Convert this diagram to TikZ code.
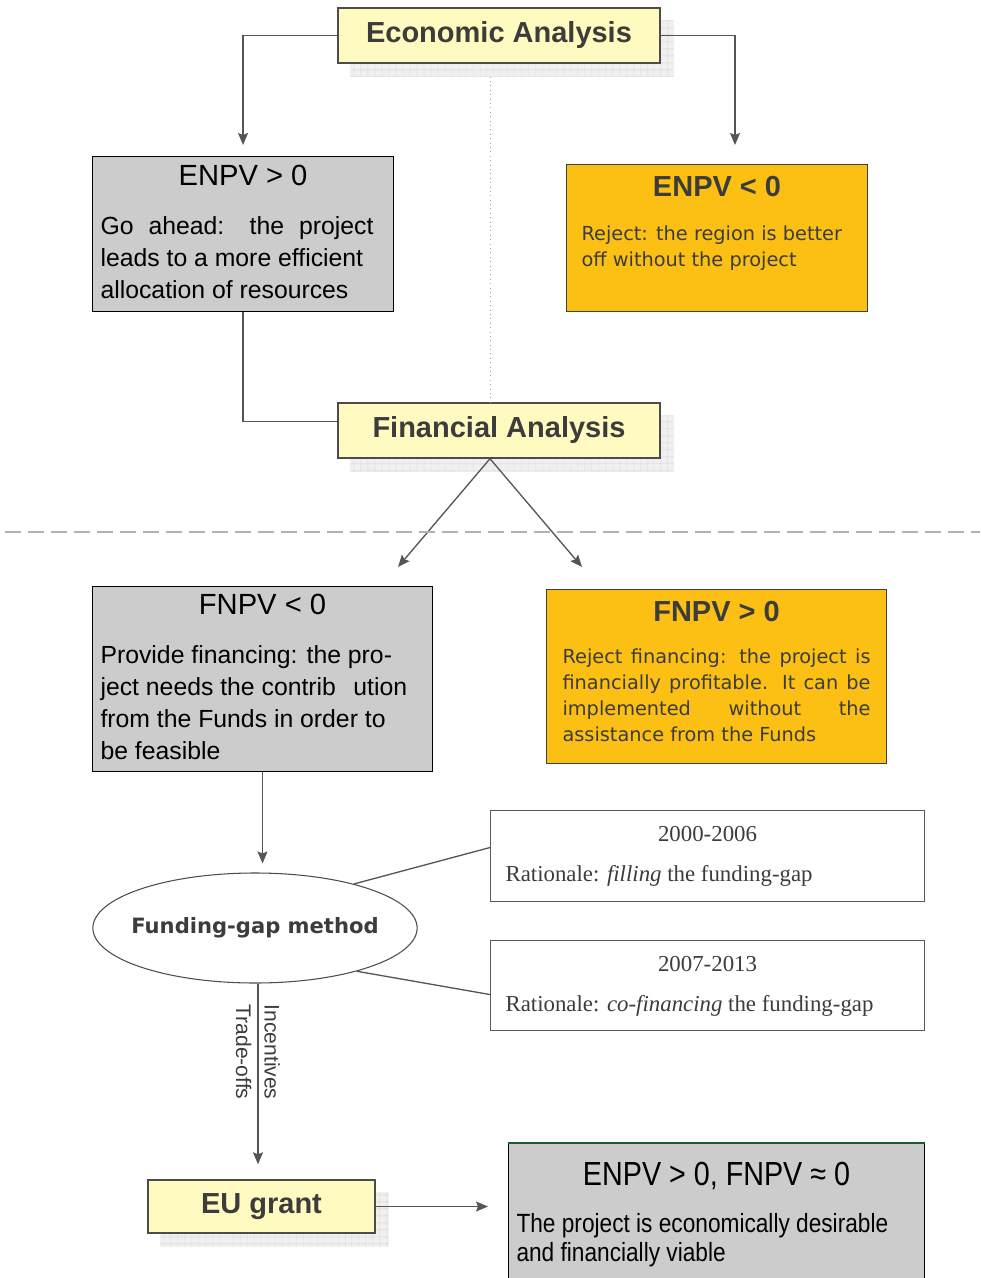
\documentclass[tikz,border=0pt]{standalone}
\usepackage{fontspec}
\newfontfamily\arialfont{Liberation Sans}
\newfontfamily\tahfont{DejaVu Sans}
\newfontfamily\narrowfont[FakeStretch=0.86]{Liberation Sans}
\newfontfamily\garafont{Liberation Serif}
\usetikzlibrary{arrows.meta,shapes.geometric,patterns.meta,backgrounds}
\definecolor{headfill}{HTML}{FFFAC0}
\definecolor{ambfill}{HTML}{FCC014}
\definecolor{boxgrey}{HTML}{CCCCCC}
\definecolor{txtdark}{HTML}{3C3C3C}
\definecolor{linegrey}{HTML}{555555}
\definecolor{topgreen}{HTML}{1F5A2A}
\newcommand{\boxtxt}[3]{\parbox[t][#2][t]{#1}{#3}}
\newcommand{\greytitle}{\arialfont\fontsize{16.6}{19}\selectfont}
\newcommand{\greybody}{\arialfont\fontsize{14.1}{18.1}\selectfont}
\newcommand{\ambtitle}{\arialfont\bfseries\fontsize{16.5}{19}\selectfont}
\newcommand{\ambbody}{\tahfont\fontsize{11}{14.7}\selectfont}
\tikzset{
	headbox/.style={draw=gray!60!black, line width=0.8pt, fill=headfill, text=txtdark, font=\arialfont\bfseries\fontsize{16.5}{19}\selectfont, minimum width=64.4mm, minimum height=11mm, inner sep=0pt},
	greybox/.style={draw=black, line width=0.6pt, fill=boxgrey, anchor=north west, inner xsep=1.6mm, inner ysep=0pt, text=black},
	ambox/.style={draw=gray!50!black, line width=0.6pt, fill=ambfill, anchor=north west, inner xsep=3mm, inner ysep=0pt, text=txtdark},
	yearbox/.style={draw=gray!70!black, line width=0.6pt, fill=white, anchor=north west, inner xsep=3mm, inner ysep=0pt, text=txtdark},
	conn/.style={draw=linegrey, line width=0.75pt},
	arr/.style={conn, -{Stealth[length=2.4mm, width=2mm, inset=0.4mm]}},
	gridshadow/.style={fill=gray!12, postaction={pattern={Lines[angle=0, distance=4pt, line width=0.35pt]}, pattern color=gray!35}, postaction={pattern={Lines[angle=90, distance=4pt, line width=0.35pt]}, pattern color=gray!35}},
}
\begin{document}
\begin{tikzpicture}[x=0.2mm, y=-0.2mm]
			%%%%% START %%%%%
			\useasboundingbox (0,0) rectangle (980,1278);
			
			\node[headbox] (ea) at (499,35.5) {Economic Analysis};
			
			\node[greybox] (enpvpos) at (92,156) {\boxtxt{57mm}{31mm}{\greybody\vspace*{5.1pt}{\centering\greytitle ENPV > 0\par}\vspace{9.7pt}\makebox[54.6mm][s]{Go ahead: the project}\newline leads to a more efficient\newline allocation of resources}};
			\node[ambox] (enpvneg) at (566,164) {\boxtxt{54.2mm}{29.4mm}{\vspace*{6.8pt}{\centering\ambtitle ENPV < 0\par}\vspace{10.2pt}\ambbody Reject: the region is better\newline off without the project}};
			
			\node[headbox] (fa) at (499,430.5) {Financial Analysis};
			
			\node[greybox] (fnpvneg) at (92,586) {\boxtxt{64.8mm}{37mm}{\greybody\vspace*{4.5pt}{\centering\greytitle FNPV < 0\par}\vspace{9.7pt}Provide financing: the pro-\newline ject needs the contrib\hspace{0.7em}ution\newline from the Funds in order to\newline be feasible}};
			\node[ambox, inner xsep=3.2mm] (fnpvpos) at (546,589) {\boxtxt{61.6mm}{34.8mm}{\vspace*{6.8pt}{\centering\ambtitle FNPV > 0\par}\vspace{9.1pt}\ambbody\makebox[\linewidth][s]{Reject financing: the project is}\newline\makebox[\linewidth][s]{financially profitable. It can be}\newline\makebox[\linewidth][s]{implemented without the}\newline assistance from the Funds}};
			
			\node[ellipse, draw=gray!60!black, line width=0.6pt, fill=white, minimum width=64.8mm, minimum height=22mm, inner xsep=-1.8mm, inner ysep=0pt, text=txtdark, font=\tahfont\bfseries\fontsize{12}{14}\selectfont] (gap) at (255,928) {Funding-gap method};
			
			\node[yearbox] (yrold) at (490,810) {\boxtxt{80.8mm}{18.2mm}{\garafont\fontsize{13}{22.7}\selectfont\vspace*{9pt}{\centering 2000-2006\par}Rationale: \textit{filling} the funding-gap}};
			\node[yearbox] (yrnew) at (490,940) {\boxtxt{80.8mm}{18mm}{\garafont\fontsize{13}{22.7}\selectfont\vspace*{9pt}{\centering 2007-2013\par}Rationale: \textit{co-financing} the funding-gap}};
			
			\node[headbox, minimum width=45.4mm, minimum height=10.6mm] (eu) at (261.5,1206.5) {EU grant};
			
			\node[greybox] (final) at (508,1143) {\boxtxt{80mm}{30mm}{\narrowfont\vspace*{10.8pt}{\centering\fontsize{19}{22}\selectfont ENPV > 0, FNPV ≈ 0\par}\vspace{10.2pt}\fontsize{15}{16.4}\selectfont The project is economically desirable\newline and financially viable}};
			\draw[draw=topgreen, line width=1.6pt] (final.north west) -- (final.north east);
			
			\begin{scope}[on background layer]
				\foreach \nd in {ea,fa,eu}
					\fill[gridshadow] ([shift={(2.6mm,-2.6mm)}]\nd.north west) rectangle ([shift={(2.6mm,-2.6mm)}]\nd.south east);
			\end{scope}
			
			\coordinate (negtip) at (735,145);
			\coordinate (lfttip) at (398,567);
			\coordinate (rgttip) at (582,567);
			
			\draw[arr, shorten >=2.2mm] (ea.west) -| (enpvpos.north);
			\draw[arr] (ea.east) -| (negtip);
			\draw[dotted, gray!70, line width=0.5pt] ([xshift=-1.8mm, yshift=-2.6mm]ea.south) -- ([xshift=-1.8mm]fa.north);
			\draw[conn] (enpvpos.south) |- ([yshift=1.8mm]fa.west);
			\draw[arr] ([xshift=-1.8mm]fa.south) -- (lfttip);
			\draw[arr] ([xshift=-1.8mm]fa.south) -- (rgttip);
			
			\draw[gray!60, line width=1pt, dash pattern=on 3.1mm off 1.5mm] (5,532) -- (980,532);
			
			\draw[arr, shorten >=1.8mm] (fnpvneg.south) -- (fnpvneg.south |- gap.north);
			\draw[conn] (gap.24) -- ([yshift=1.7mm]yrold.west);
			\draw[conn] (gap.-23) -- ([yshift=-1.8mm]yrnew.west);
			\draw[arr, shorten >=3mm] ([xshift=0.6mm]gap.south) -- ([xshift=0.6mm]gap.south |- eu.north)
				node[pos=0.35, rotate=-90, anchor=south, text=txtdark, font=\arialfont\fontsize{12}{14}\selectfont] {Incentives}
				node[pos=0.35, rotate=-90, anchor=north, text=txtdark, font=\arialfont\fontsize{12}{14}\selectfont] {Trade-offs};
			\draw[arr, shorten >=4mm] (eu.east) -- (eu.east -| final.west);
			
			%%%%% END %%%%%
\end{tikzpicture}
\end{document}
